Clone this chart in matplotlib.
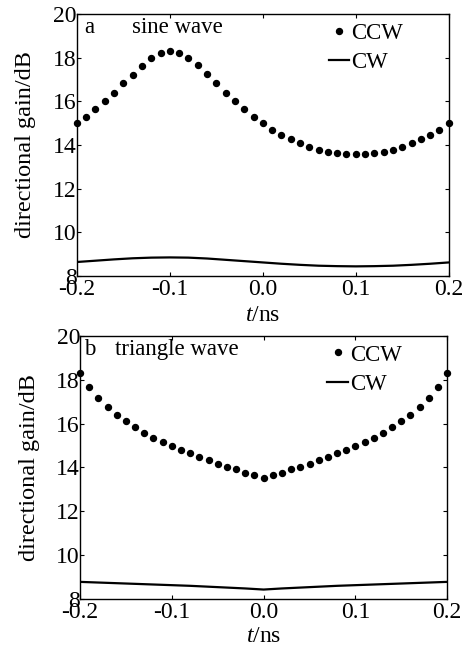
import matplotlib
matplotlib.use('Agg')
import matplotlib.pyplot as plt

plt.rcParams['font.family'] = ['Liberation Serif', 'DejaVu Serif']
plt.rcParams['axes.unicode_minus'] = False
plt.rcParams['mathtext.fontset'] = 'custom'
plt.rcParams['mathtext.it'] = 'Liberation Serif:italic'
plt.rcParams['mathtext.rm'] = 'Liberation Serif'

# time axis, ns
t_ccw = [-0.20, -0.19, -0.18, -0.17, -0.16, -0.15, -0.14, -0.13, -0.12, -0.11,
         -0.10, -0.09, -0.08, -0.07, -0.06, -0.05, -0.04, -0.03, -0.02, -0.01,
         0.00, 0.01, 0.02, 0.03, 0.04, 0.05, 0.06, 0.07, 0.08, 0.09,
         0.10, 0.11, 0.12, 0.13, 0.14, 0.15, 0.16, 0.17, 0.18, 0.19, 0.20]
t_cw = [-0.20, -0.18, -0.16, -0.14, -0.12, -0.10, -0.08, -0.06, -0.04, -0.02,
        0.00, 0.02, 0.04, 0.06, 0.08, 0.10, 0.12, 0.14, 0.16, 0.18, 0.20]

# (a) sine wave
sine_ccw = [14.99, 15.30, 15.65, 16.02, 16.40, 16.82, 17.21, 17.62, 17.98, 18.23,
            18.31, 18.23, 17.98, 17.66, 17.25, 16.82, 16.40, 16.02, 15.65, 15.30,
            14.99, 14.69, 14.46, 14.26, 14.08, 13.92, 13.77, 13.69, 13.62, 13.57,
            13.57, 13.57, 13.62, 13.69, 13.77, 13.92, 14.08, 14.26, 14.46, 14.69, 14.99]
sine_cw = [8.64, 8.70, 8.76, 8.81, 8.84, 8.85, 8.84, 8.80, 8.74, 8.68,
           8.62, 8.56, 8.51, 8.47, 8.45, 8.44, 8.45, 8.47, 8.51, 8.56, 8.62]

# (b) triangle wave
tri_ccw = [18.29, 17.69, 17.18, 16.77, 16.39, 16.13, 15.86, 15.58, 15.35, 15.16,
           14.97, 14.79, 14.64, 14.49, 14.32, 14.18, 14.03, 13.91, 13.76, 13.65,
           13.54, 13.65, 13.76, 13.91, 14.03, 14.18, 14.32, 14.49, 14.64, 14.79,
           14.97, 15.16, 15.35, 15.58, 15.86, 16.13, 16.39, 16.77, 17.18, 17.69, 18.29]
tri_cw = [8.78, 8.75, 8.72, 8.69, 8.66, 8.63, 8.60, 8.56, 8.52, 8.48,
          8.43, 8.48, 8.52, 8.56, 8.60, 8.63, 8.66, 8.69, 8.72, 8.75, 8.78]

x_ticks = [-0.2, -0.1, 0.0, 0.1, 0.2]
x_ticklabels = ['-0.2', '-0.1', '0.0', '0.1', '0.2']
y_ticks = [8, 10, 12, 14, 16, 18, 20]

panels = [
    ('a', 'sine wave', sine_ccw, sine_cw, [0.165, 0.5728, 0.798, 0.4055], 132, 3.5),
    ('b', 'triangle wave', tri_ccw, tri_cw, [0.1717, 0.0728, 0.788, 0.4071], 115, 1.5),
]

fig = plt.figure(figsize=(4.66, 6.46), dpi=100)

for letter, name, ccw, cw, rect, name_px, xpad in panels:
    ax = fig.add_axes(rect)
    ax.plot(t_ccw, ccw, 'o', color='black', markersize=4.3, label='CCW', clip_on=False)
    ax.plot(t_cw, cw, '-', color='black', linewidth=1.6, label='CW')
    ax.set_xlim(-0.2, 0.2)
    ax.set_ylim(8, 20)
    ax.set_xticks(x_ticks)
    ax.set_xticklabels(x_ticklabels)
    ax.set_yticks(y_ticks)
    ax.tick_params(direction='in', top=True, right=True, length=3, width=0.8,
                   labelsize=17)
    ax.tick_params(axis='y', pad=0)
    ax.tick_params(axis='x', pad=2.5)
    for s in ax.spines.values():
        s.set_linewidth(1.0)
    ax.set_xlabel('$t$/ns', fontsize=17, labelpad=xpad)
    ax.set_ylabel('directional gain/dB', fontsize=17.5, labelpad=12)

    # panel label and title inside the frame
    x0 = rect[0] * 466
    w = rect[2] * 466
    ax.text((84 - x0) / w, 0.95, letter, transform=ax.transAxes,
            fontsize=16.5, va='center', ha='left')
    ax.text((name_px - x0) / w, 0.95, name,
            transform=ax.transAxes, fontsize=16.5, va='center', ha='left')

    ax.legend(loc='upper right', bbox_to_anchor=(0.915, 1.02), frameon=False,
              fontsize=16.5, handlelength=0.9, handletextpad=0.1, labelspacing=0.35,
              numpoints=1, borderaxespad=0.2)

fig.savefig('out.png', dpi=100)
